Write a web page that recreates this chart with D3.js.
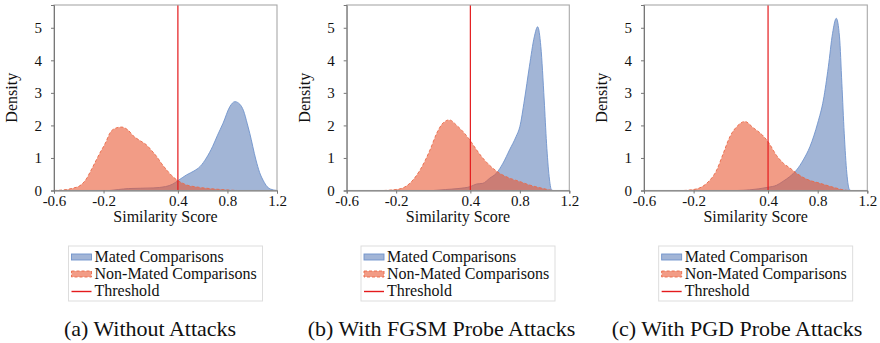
<!DOCTYPE html>
<html><head><meta charset="utf-8">
<script src="https://cdn.jsdelivr.net/npm/d3@7"></script>
<style>
body{margin:0;background:#fff;}
svg{display:block;}
</style></head>
<body><svg id="c" width="880" height="343"></svg>
<script>
// ---- data (similarity score, density) ----
const xTicks = [-0.6, -0.2, 0.4, 0.8, 1.2];
const yTicks = [0, 1, 2, 3, 4, 5];
const captions = ["(a) Without Attacks", "(b) With FGSM Probe Attacks", "(c) With PGD Probe Attacks"];
const matedLabels = ["Mated Comparisons", "Mated Comparisons", "Mated Comparison"];
const nonMatedLabel = "Non-Mated Comparisons";
const thresholdLabel = "Threshold";
const threshold = 0.4;

const matedA = [[-0.15,0],[-0.08,0.03],[0.0,0.06],[0.1,0.07],[0.2,0.08],[0.3,0.12],[0.36,0.2],[0.4,0.3],[0.47,0.48],[0.53,0.6],[0.58,0.74],[0.63,1.0],[0.68,1.35],[0.72,1.7],[0.765,2.07],[0.82,2.58],[0.86,2.73],[0.9,2.65],[0.93,2.45],[0.96,2.05],[0.98,1.76],[1.03,0.94],[1.06,0.55],[1.09,0.3],[1.12,0.12],[1.15,0.04],[1.2,0]];
const nonMatedA = [[-0.6,0],[-0.5,0.03],[-0.45,0.07],[-0.39,0.15],[-0.34,0.35],[-0.3,0.63],[-0.23,1.15],[-0.18,1.5],[-0.15,1.76],[-0.1,1.92],[-0.055,1.95],[0.0,1.85],[0.04,1.68],[0.1,1.52],[0.147,1.4],[0.19,1.22],[0.23,1.04],[0.27,0.82],[0.31,0.63],[0.35,0.46],[0.39,0.33],[0.43,0.24],[0.47,0.17],[0.55,0.11],[0.63,0.07],[0.75,0.03],[0.88,0]];

const matedB = [[0.1,0],[0.2,0.03],[0.3,0.06],[0.4,0.12],[0.45,0.2],[0.5,0.22],[0.557,0.38],[0.61,0.53],[0.664,0.84],[0.717,1.25],[0.77,1.66],[0.8,1.96],[0.837,2.78],[0.877,3.8],[0.917,4.72],[0.944,5.03],[0.97,4.42],[0.997,2.78],[1.016,1.45],[1.037,0.43],[1.056,0.02],[1.07,0]];
const nonMatedB = [[-0.3,0],[-0.17,0.05],[-0.09,0.22],[-0.007,0.63],[0.074,1.25],[0.128,1.76],[0.18,2.08],[0.23,2.17],[0.29,2.0],[0.343,1.8],[0.4,1.53],[0.45,1.25],[0.5,1.0],[0.557,0.77],[0.61,0.6],[0.637,0.53],[0.717,0.38],[0.797,0.28],[0.877,0.17],[0.957,0.09],[1.037,0.02],[1.06,0]];

const matedC = [[0.15,0],[0.25,0.02],[0.4,0.1],[0.468,0.16],[0.52,0.28],[0.576,0.43],[0.63,0.63],[0.684,0.94],[0.738,1.35],[0.8,2.07],[0.846,2.78],[0.886,3.8],[0.92,4.83],[0.95,5.29],[0.976,4.72],[0.995,3.29],[1.014,1.76],[1.035,0.53],[1.057,0.02],[1.07,0]];
const nonMatedC = [[-0.28,0],[-0.175,0.05],[-0.095,0.22],[-0.014,0.63],[0.04,1.15],[0.093,1.66],[0.147,1.96],[0.214,2.12],[0.28,1.93],[0.35,1.72],[0.4,1.5],[0.47,1.07],[0.523,0.84],[0.577,0.69],[0.63,0.53],[0.71,0.35],[0.82,0.22],[0.926,0.1],[1.007,0.02],[1.05,0]];

const panels = [
  {mated: matedA, non: nonMatedA, x0: 54, x1: 277, cap: 150},
  {mated: matedB, non: nonMatedB, x0: 346.7, x1: 569.3, cap: 441.5},
  {mated: matedC, non: nonMatedC, x0: 644, x1: 867.3, cap: 737}
];

const FONT = '"Liberation Serif"';
const BLUE = "#4c72b0", RED = "#e8542e", TH = "#e41a1c";
const plotTop = 5, plotBottom = 190.5;
const svg = d3.select("#c");

function txt(sel, size) {
  return sel.attr("font-family", null).style("font-family", FONT).attr("font-size", size).attr("fill", "#111");
}

panels.forEach((p, i) => {
  const x = d3.scaleLinear().domain([-0.6, 1.2]).range([p.x0, p.x1]);
  const y = d3.scaleLinear().domain([0, 5.7]).range([plotBottom, plotTop]);
  const g = svg.append("g");

  const area = d3.area().curve(d3.curveMonotoneX).x(d => x(d[0])).y0(y(0)).y1(d => y(d[1]));
  const line = d3.line().curve(d3.curveMonotoneX).x(d => x(d[0])).y(d => y(d[1]));

  g.append("path").datum(p.mated).attr("d", area).attr("fill", BLUE).attr("fill-opacity", 0.52);
  g.append("path").datum(p.mated).attr("d", line).attr("fill", "none").attr("stroke", "#6f93cc").attr("stroke-width", 0.9);
  g.append("path").datum(p.non).attr("d", area).attr("fill", RED).attr("fill-opacity", 0.58);
  g.append("path").datum(p.non).attr("d", line).attr("fill", "none").attr("stroke", "#ea6a48").attr("stroke-width", 0.9).attr("stroke-dasharray", "3,2");

  // threshold
  g.append("line").attr("x1", x(threshold)).attr("x2", x(threshold)).attr("y1", plotTop).attr("y2", plotBottom)
    .attr("stroke", TH).attr("stroke-width", 1.2);

  // frame
  g.append("rect").attr("x", p.x0).attr("y", plotTop).attr("width", p.x1 - p.x0).attr("height", plotBottom - plotTop)
    .attr("fill", "none").attr("stroke", "#a8a8a8").attr("stroke-width", 1.1);

  // axes
  const xa = g.append("g").attr("transform", `translate(0,${plotBottom})`)
    .call(d3.axisBottom(x).tickValues(xTicks).tickSize(3).tickPadding(2).tickFormat(d => d3.format(".1f")(d).replace("\u2212", "-")));
  xa.attr("font-family", null);
  xa.select(".domain").attr("stroke", "#777");
  xa.selectAll(".tick line").attr("stroke", "#777");
  txt(xa.selectAll("text"), 15);

  const ya = g.append("g").attr("transform", `translate(${p.x0},0)`)
    .call(d3.axisLeft(y).tickValues(yTicks).tickSize(3).tickPadding(9).tickFormat(d3.format("d")));
  ya.attr("font-family", null);
  ya.select(".domain").attr("stroke", "#777");
  ya.selectAll(".tick line").attr("stroke", "#777");
  txt(ya.selectAll("text"), 15);

  // axis labels
  const cx = (p.x0 + p.x1) / 2;
  txt(g.append("text").attr("x", cx).attr("y", 222).attr("text-anchor", "middle"), 16).text("Similarity Score");
  txt(g.append("text").attr("transform", `translate(${p.x0 - 37},${(plotTop + plotBottom) / 2}) rotate(-90)`)
    .attr("text-anchor", "middle"), 16).text("Density");

  // legend
  const lx = cx - 97, ly = 246;
  const lg = g.append("g");
  lg.append("rect").attr("x", lx).attr("y", ly).attr("width", 194).attr("height", 55)
    .attr("fill", "#fff").attr("stroke", "#ddd").attr("stroke-width", 1);
  const rows = [matedLabels[i], nonMatedLabel, thresholdLabel];
  rows.forEach((t, k) => {
    const by = 262 + k * 17;
    if (k === 0) {
      lg.append("rect").attr("x", lx + 3).attr("y", by - 8).attr("width", 20).attr("height", 6)
        .attr("fill", BLUE).attr("fill-opacity", 0.52).attr("stroke", "#6f93cc").attr("stroke-width", 0.9);
    } else if (k === 1) {
      lg.append("rect").attr("x", lx + 3).attr("y", by - 8).attr("width", 20).attr("height", 6)
        .attr("fill", RED).attr("fill-opacity", 0.58).attr("stroke", "#ea6a48").attr("stroke-width", 0.9).attr("stroke-dasharray", "3,2");
    } else {
      lg.append("line").attr("x1", lx + 3).attr("x2", lx + 23).attr("y1", by - 4.5).attr("y2", by - 4.5)
        .attr("stroke", TH).attr("stroke-width", 1.4);
    }
    txt(lg.append("text").attr("x", lx + 26).attr("y", by), 16).text(t);
  });

  // caption
  txt(g.append("text").attr("x", p.cap).attr("y", 336).attr("text-anchor", "middle"), 22).text(captions[i]);
});
</script></body></html>
